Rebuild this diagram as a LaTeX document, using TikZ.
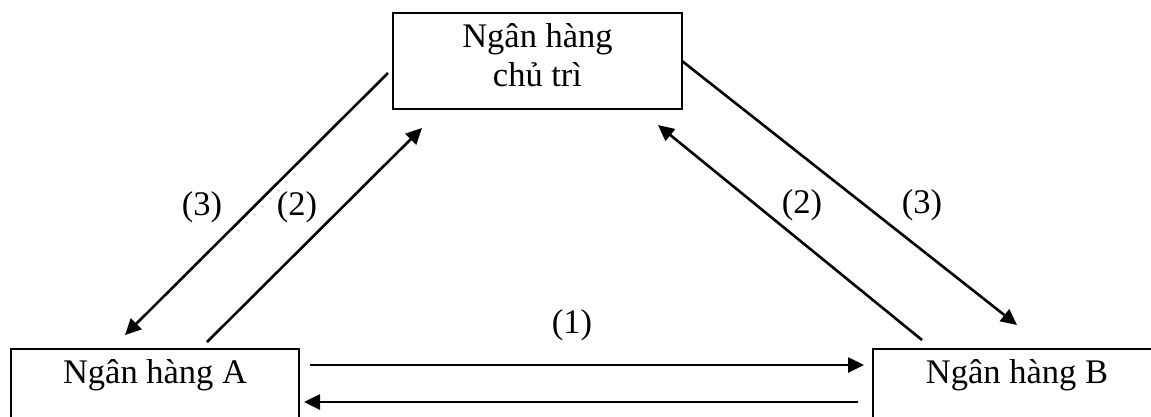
\documentclass[tikz,border=0pt]{standalone}
\usepackage{fontspec}
\setmainfont{Liberation Serif}
\usetikzlibrary{arrows.meta}
\begin{document}
\begin{tikzpicture}[x=1pt,y=-1pt,
  box/.style={draw, line width=2.2pt, inner sep=0pt},
  txt/.style={font=\fontsize{34.5}{40}\selectfont, inner sep=0pt},
  flow/.style={line width=2.6pt, -{Triangle[length=16pt,width=15pt]}},
  lab/.style={font=\fontsize{34.5}{40}\selectfont, inner sep=0pt}]
\useasboundingbox[fill=white] (0,0) rectangle (1151,416);
% boxes
\node[box, minimum width=289pt, minimum height=96pt] (T) at (537.5,61) {};
\node[txt, anchor=base] (Tt1) at (537.5,47) {Ngân hàng};
\node[txt, anchor=base] (Tt2) at (537.5,86) {chủ trì};
\node[box, minimum width=288pt, minimum height=91pt] (A) at (155,394.5) {};
\node[txt, anchor=base] (At) at (155,383) {Ngân hàng A};
\node[box, minimum width=288pt, minimum height=91pt] (B) at (1017,394.5) {};
\node[txt, anchor=base] (Bt) at (1017,383) {Ngân hàng B};
% connector end points
\coordinate (l3s) at (388,73);
\coordinate (l3e) at (125,335);
\coordinate (l2s) at (207,342);
\coordinate (l2e) at (422,128);
\coordinate (r2s) at (922,340);
\coordinate (r2e) at (658,125);
\coordinate (r3s) at (682,61);
\coordinate (r3e) at (1017,325);
\coordinate (b1s) at (310,365);
\coordinate (b1e) at (864,365);
\coordinate (b2s) at (858,402);
\coordinate (b2e) at (304,402);
% connectors
\draw[flow] (l3s) -- (l3e);
\draw[flow] (l2s) -- (l2e);
\draw[flow] (r2s) -- (r2e);
\draw[flow] (r3s) -- (r3e);
\draw[flow] (b1s) -- (b1e);
\draw[flow] (b2s) -- (b2e);
% labels
\node[lab] (L3a) at (202,207) {(3)};
\node[lab] (L2a) at (297,207) {(2)};
\node[lab] (L2b) at (802,205) {(2)};
\node[lab] (L3b) at (922,205) {(3)};
\node[lab] (L1) at (572,325) {(1)};
\end{tikzpicture}
\end{document}
